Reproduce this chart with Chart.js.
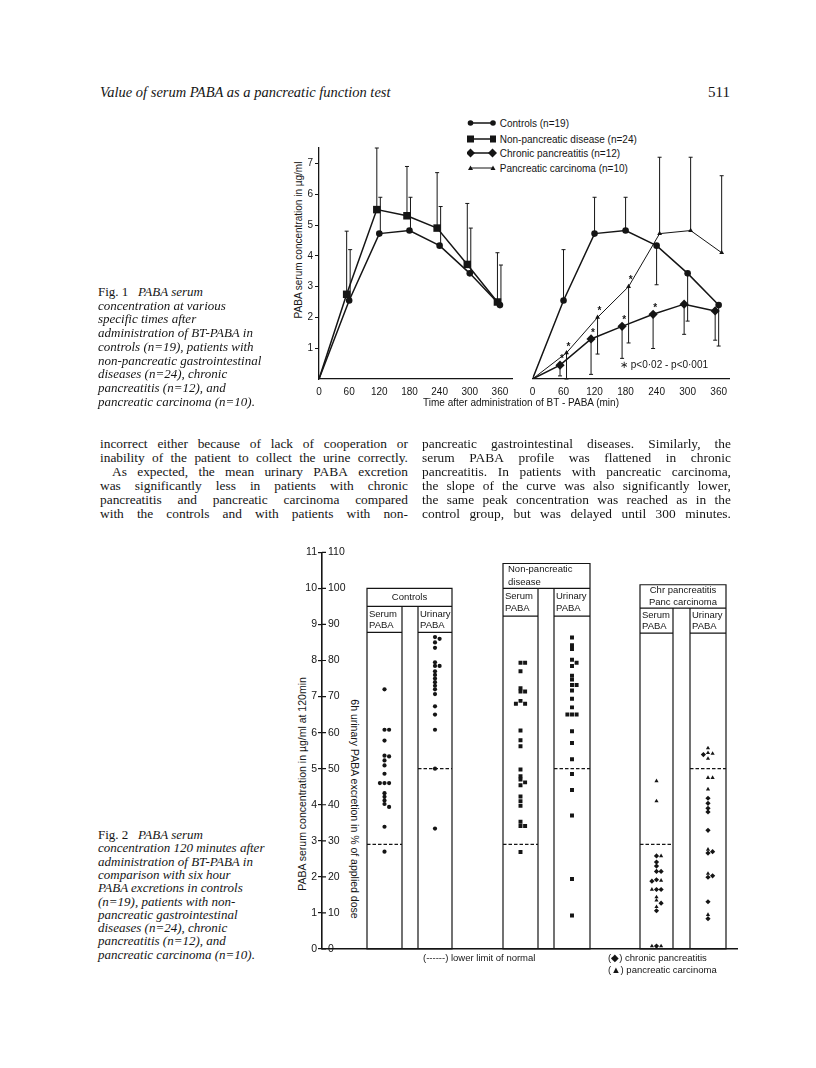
<!DOCTYPE html>
<html>
<head>
<meta charset="utf-8">
<title>Value of serum PABA as a pancreatic function test</title>
<script src="https://cdn.jsdelivr.net/npm/chart.js@4.4.1/dist/chart.umd.min.js"></script>
<style>
  body { margin: 0; background: #fff; }
  #page { position: relative; width: 816px; height: 1068px; overflow: hidden; color: #151515;
          font-family: 'Liberation Serif', 'Times New Roman', serif; }
  .t { position: absolute; white-space: nowrap; }
  .it { font-style: italic; }
  .sans { font-family: 'Liberation Sans', Arial, sans-serif; }
  canvas { position: absolute; }
  .jl { position: absolute; display: flex; justify-content: space-between; white-space: nowrap; font-size: 13.4px; }
  .cap { position: absolute; left: 98px; font-size: 13px; font-style: italic; white-space: nowrap; }
  .rot { position: absolute; white-space: nowrap; font-size: 10px; transform: translate(-50%, -50%) rotate(-90deg); }
</style>
</head>
<body>
<div id="page">
  <div class="t it" style="left:100px;top:84px;font-size:14.5px">Value of serum PABA as a pancreatic function test</div>
  <div class="t" style="left:708px;top:84px;font-size:15px">511</div>

  <!-- Fig 1 legend -->
  <div class="t sans" style="left:467px;top:117px;font-size:10px;line-height:13px"><svg width="30" height="12" style="vertical-align:-2px"><line x1="3" y1="6" x2="26" y2="6" stroke="#151515" stroke-width="1.5"/><circle cx="3.5" cy="6" r="2.8" fill="#151515"/><circle cx="26" cy="6" r="2.8" fill="#151515"/></svg> Controls (n=19)</div>
  <div class="t sans" style="left:467px;top:133px;font-size:10px;line-height:13px"><svg width="30" height="12" style="vertical-align:-2px"><line x1="3" y1="6" x2="26" y2="6" stroke="#151515" stroke-width="1.5"/><rect x="0" y="2.5" width="7" height="7" fill="#151515"/><rect x="23" y="2.5" width="6" height="7" fill="#151515"/></svg> Non-pancreatic disease (n=24)</div>
  <div class="t sans" style="left:467px;top:147px;font-size:10px;line-height:13px"><svg width="30" height="12" style="vertical-align:-2px"><line x1="3" y1="6" x2="26" y2="6" stroke="#151515" stroke-width="1.5"/><polygon points="3.5,1.5 8,6 3.5,10.5 -1,6" fill="#151515"/><polygon points="25.5,1.5 30,6 25.5,10.5 21,6" fill="#151515"/></svg> Chronic pancreatitis (n=12)</div>
  <div class="t sans" style="left:467px;top:162px;font-size:10px;line-height:13px"><svg width="30" height="12" style="vertical-align:-2px"><line x1="3" y1="6" x2="26" y2="6" stroke="#151515" stroke-width="1"/><polygon points="3.5,3.5 6,8 1,8" fill="#151515"/><polygon points="26,3.5 28.5,8 23.5,8" fill="#151515"/></svg> Pancreatic carcinoma (n=10)</div>

  <div class="rot sans" style="left:298px;top:240px">PABA serum concentration in µg/ml</div>
  <canvas id="fig1a" width="260" height="280" style="left:260px;top:130px"></canvas>
  <canvas id="fig1b" width="220" height="280" style="left:520px;top:130px"></canvas>
  <div class="t sans" style="left:620px;top:359px;font-size:10px">∗ p&lt;0·02 - p&lt;0·001</div>
  <div class="t sans" style="left:521px;top:397px;font-size:10px;transform:translateX(-50%)">Time after administration of BT - PABA (min)</div>

  <div id="cap1"></div>
  <div id="body"></div>
  <div id="cap2"></div>

  <!-- Fig 2 -->
  <div class="rot sans" style="left:302px;top:784px;font-size:10.5px">PABA serum concentration in µg/ml at 120min</div>
  <div class="rot sans" style="left:355px;top:809px;font-size:10.5px;transform:translate(-50%,-50%) rotate(90deg)">6h urinary PABA excretion in % of applied dose</div>
  <canvas id="fig2" width="460" height="440" style="left:280px;top:540px"></canvas>
  <div class="t sans" style="left:423px;top:952px;font-size:9.5px">(------) lower limit of normal</div>
  <div class="t sans" style="left:608px;top:952px;font-size:9.5px">(◆) chronic pancreatitis</div>
  <div class="t sans" style="left:608px;top:964px;font-size:9.5px">(▲) pancreatic carcinoma</div>
</div>

<script>
// ---------- Fig. 1: mean serum PABA (µg/ml) after BT-PABA ----------
const times = [0, 60, 120, 180, 240, 300, 360];
const timeTicks = [0, 60, 120, 180, 240, 300, 360];
const concTicks = [1, 2, 3, 4, 5, 6, 7];

const controlsMean = [0, 2.55, 4.72, 4.82, 4.33, 3.43, 2.4];
const controlsBarLeft = [null, 4.2, 5.9, 5.9, 5.6, 4.9, 3.7];     // end of SD bar, left panel
const controlsBarRight = [null, 4.2, 5.9, 5.9, 3.06, 1.88, 1.07]; // right panel draws later bars down
const nonPancMean = [0, 2.75, 5.5, 5.3, 4.9, 3.72, 2.5];
const nonPancBar = [null, 4.8, 7.5, 6.9, 6.7, 5.7, 4.1];
const chronicMean = [0, 0.45, 1.3, 1.71, 2.1, 2.43, 2.21];
const chronicBar = [null, 0.1, 0.15, 0.67, 0.99, 1.45, 1.26];
const carcinomaMean = [0, 0.85, 2.0, 3.0, 4.72, 4.82, 4.1];
const carcinomaBar = [null, 0, 0.81, 1.17, 7.2, 7.2, 6.6];
const chronicSig = [false, true, true, true, true, false, false];
const carcinomaSig = [false, true, true, true, false, false, false];

// ---------- Fig. 2: individual values ----------
const serumTicks = [0, 1, 2, 3, 4, 5, 6, 7, 8, 9, 10, 11];
const urineTicks = [0, 10, 20, 30, 40, 50, 60, 70, 80, 90, 100, 110];
const serumLimit = 2.9;   // µg/ml
const urineLimit = 50;    // %

const ctrlSerum = [7.2, 6.08, 6.08, 5.78, 5.36, 5.34, 5.23, 5.09, 4.86, 4.6, 4.6, 4.6, 4.32, 4.22, 4.12, 4.02, 3.94, 3.39, 2.7];
const ctrlUrine = [86.5, 86, 85, 83.5, 79.5, 78.5, 78.5, 77, 76, 75, 74, 73, 72, 70.7, 67.3, 65, 60.8, 50, 33.4];
const npSerum = [7.94, 7.94, 7.7, 7.23, 7.14, 7.14, 6.88, 6.8, 6.8, 6.06, 5.79, 5.62, 4.98, 4.79, 4.7, 4.62, 4.54, 4.23, 4.1, 3.97, 3.53, 3.41, 3.41, 2.69];
const npUrine = [86.4, 84.2, 83.2, 80.2, 79.4, 78.5, 75.8, 74.7, 73.2, 73.2, 71.7, 69.4, 67, 65, 65, 65, 60.4, 57.1, 52.6, 48.5, 44.1, 37, 19.4, 9.3];
const cpSerum = [2.58, 2.41, 2.3, 2.15, 2.15, 1.92, 1.88, 1.65, 1.65, 1.27, 1.06, 0.08];
const caSerum = [4.66, 4.1, 2.58, 1.9, 1.65, 1.44, 1.35, 1.17, 0.08, 0.08];
const cpUrine = [53.9, 41.8, 40.4, 39, 38, 32.9, 26.6, 27, 19.9, 20.3, 13.1, 8.4];
const caUrine = [55.7, 54.4, 54.2, 52.8, 47.5, 47.5, 44.3, 27.6, 20.9, 9.5];

const INK = '#151515';
const FONT = "'Liberation Sans', Arial, sans-serif";
Chart.defaults.font.family = FONT;
Chart.defaults.color = INK;

// ---------- page text ----------
function capLines(id, lines, top, step) {
  const box = document.getElementById(id);
  lines.forEach((l, i) => {
    const d = document.createElement('div');
    d.className = 'cap';
    d.style.top = (top + i * step) + 'px';
    d.innerHTML = l;
    box.appendChild(d);
  });
}
capLines('cap1', [
  '<span style="font-style:normal">Fig. 1</span>&nbsp;&nbsp;&nbsp;PABA serum',
  'concentration at various', 'specific times after', 'administration of BT-PABA in',
  'controls (n=19), patients with', 'non-pancreatic gastrointestinal', 'diseases (n=24), chronic',
  'pancreatitis (n=12), and', 'pancreatic carcinoma (n=10).'
], 284, 13.7);
capLines('cap2', [
  '<span style="font-style:normal">Fig. 2</span>&nbsp;&nbsp;&nbsp;PABA serum',
  'concentration 120 minutes after', 'administration of BT-PABA in', 'comparison with six hour',
  'PABA excretions in controls', '(n=19), patients with non-', 'pancreatic gastrointestinal',
  'diseases (n=24), chronic', 'pancreatitis (n=12), and', 'pancreatic carcinoma (n=10).'
], 827, 13.3);

function justified(lines, left, width, top, step) {
  const box = document.getElementById('body');
  lines.forEach((l, i) => {
    const d = document.createElement('div');
    d.className = 'jl';
    const indent = l.startsWith('  ') ? 12 : 0;
    d.style.left = (left + indent) + 'px';
    d.style.width = (width - indent) + 'px';
    d.style.top = (top + i * step) + 'px';
    l.trim().split(' ').forEach(w => {
      const s = document.createElement('span');
      s.textContent = w;
      d.appendChild(s);
    });
    box.appendChild(d);
  });
}
justified([
  'incorrect either because of lack of cooperation or',
  'inability of the patient to collect the urine correctly.',
  '  As expected, the mean urinary PABA excretion',
  'was significantly less in patients with chronic',
  'pancreatitis and pancreatic carcinoma compared',
  'with the controls and with patients with non-'
], 100, 308, 436, 14);
justified([
  'pancreatic gastrointestinal diseases. Similarly, the',
  'serum PABA profile was flattened in chronic',
  'pancreatitis. In patients with pancreatic carcinoma,',
  'the slope of the curve was also significantly lower,',
  'the same peak concentration was reached as in the',
  'control group, but was delayed until 300 minutes.'
], 422, 309, 436, 14);

// ---------- plugins ----------
// shift a series sideways a few pixels, as the printed figure does
const dodgePlugin = {
  id: 'dodge',
  afterDatasetUpdate(chart, args) {
    const dx = chart.data.datasets[args.index].dodge || 0;
    if (!dx) return;
    args.meta.data.forEach((pt, i) => { if (i > 0) pt.x += dx; });
  }
};

const errorBarPlugin = {
  id: 'errorBars',
  afterDatasetsDraw(chart) {
    const ctx = chart.ctx;
    chart.data.datasets.forEach((ds, i) => {
      const meta = chart.getDatasetMeta(i);
      const ys = chart.scales[meta.yAxisID];
      ctx.save();
      ctx.strokeStyle = INK;
      ctx.fillStyle = INK;
      ctx.lineWidth = 1;
      if (ds.barEnds) {
        meta.data.forEach((pt, j) => {
          const end = ds.barEnds[j];
          if (end == null) return;
          const x = pt.x + (ds.barDx || 0);
          const ye = ys.getPixelForValue(end);
          ctx.beginPath();
          ctx.moveTo(x, pt.y);
          ctx.lineTo(x, ye);
          ctx.moveTo(x - 2, ye);
          ctx.lineTo(x + 2, ye);
          ctx.stroke();
        });
      }
      if (ds.stars) {
        ctx.font = 'bold 10px ' + FONT;
        ctx.textAlign = 'center';
        ctx.textBaseline = 'middle';
        meta.data.forEach((pt, j) => {
          if (ds.stars[j]) ctx.fillText('*', pt.x + 2, pt.y - 6);
        });
      }
      ctx.restore();
    });
  }
};

const markerR = r => c => (c.dataIndex === 0 ? 0 : r);
const pts = ys => times.map((t, i) => ({x: t, y: ys[i]}));

function series(label, ys, style, r, extra) {
  return Object.assign({
    label: label, data: pts(ys), pointStyle: style, pointRadius: markerR(r),
    borderColor: INK, backgroundColor: INK, pointBackgroundColor: INK,
    pointBorderWidth: 0, borderWidth: 1.5, tension: 0
  }, extra);
}

function timeAxis(max) {
  return {
    type: 'linear', min: 0, max: max,
    afterBuildTicks: s => { s.ticks = timeTicks.map(v => ({value: v})); },
    afterFit: s => { s.height = 31; },
    grid: {display: false, drawTicks: false},
    border: {color: INK, width: 1.3},
    ticks: {color: INK, font: {size: 10}, padding: 7, autoSkip: false, maxRotation: 0}
  };
}

new Chart(document.getElementById('fig1a'), {
  type: 'line',
  data: {
    datasets: [
      series('Controls (n=19)', controlsMean, 'circle', 3.3, {barEnds: controlsBarLeft, barDx: 1}),
      series('Non-pancreatic disease (n=24)', nonPancMean, 'rect', 5.3, {barEnds: nonPancBar, dodge: -2.5})
    ]
  },
  options: {
    responsive: false, animation: false,
    layout: {autoPadding: false, padding: {top: 18, right: 8, left: 0, bottom: 0}},
    plugins: {legend: {display: false}, tooltip: {enabled: false}},
    scales: {
      x: timeAxis(384),
      y: {
        min: 0, max: 7.5,
        afterBuildTicks: s => { s.ticks = concTicks.map(v => ({value: v})); },
        afterFit: s => { s.width = 59; },
        grid: {drawOnChartArea: false, tickLength: 4, color: INK},
        border: {color: INK, width: 1.3},
        ticks: {color: INK, font: {size: 10}, padding: 2}
      }
    }
  },
  plugins: [dodgePlugin, errorBarPlugin]
});

new Chart(document.getElementById('fig1b'), {
  type: 'line',
  data: {
    datasets: [
      series('Controls (n=19)', controlsMean, 'circle', 3.3, {barEnds: controlsBarRight}),
      series('Chronic pancreatitis (n=12)', chronicMean, 'rectRot', 4.6, {barEnds: chronicBar, stars: chronicSig, dodge: -3.5}),
      series('Pancreatic carcinoma (n=10)', carcinomaMean, 'triangle', 2.8, {barEnds: carcinomaBar, stars: carcinomaSig, dodge: 3, borderWidth: 1})
    ]
  },
  options: {
    responsive: false, animation: false,
    layout: {autoPadding: false, padding: {top: 18, right: 11, left: 12.5, bottom: 0}},
    plugins: {legend: {display: false}, tooltip: {enabled: false}},
    scales: {
      x: timeAxis(380),
      y: {min: 0, max: 7.5, display: false}
    }
  },
  plugins: [dodgePlugin, errorBarPlugin]
});

// ---------- Fig. 2 ----------
// column frames, in x-axis units (pixels right of the axis) and y-axis values
const fig2Groups = [
  {x0: 45, x1: 130, split: [80, 96], top: 10, head: 9.5, sub: 8.78, title: ['Controls'], align: 'center'},
  {x0: 181, x1: 268, split: [216, 232], top: 10.69, head: 10.0, sub: 9.23, title: ['Non-pancreatic', 'disease'], align: 'left'},
  {x0: 318, x1: 404, split: [351, 368], top: 10.1, head: 9.45, sub: 8.76, title: ['Chr pancreatitis', 'Panc carcinoma'], align: 'center'}
];

// spread dots of equal value sideways (simple swarm)
function swarm(center, lists) {
  const all = [];
  lists.forEach((l, li) => l.vals.forEach((v, vi) => all.push({u: v * l.k, li: li, vi: vi})));
  all.sort((a, b) => b.u - a.u);
  const placed = [];
  const out = lists.map(l => new Array(l.vals.length));
  const slots = [0, 1, -1, 2, -2];
  all.forEach(d => {
    let s = slots.find(sl => !placed.some(p => p.s === sl && Math.abs(p.u - d.u) < 0.085));
    if (s === undefined) s = 0;
    placed.push({s: s, u: d.u});
    out[d.li][d.vi] = center + s * 4.6;
  });
  return out;
}

function dots(label, vals, xs, axis, style, r) {
  return {
    label: label, data: vals.map((v, i) => ({x: xs[i], y: v})), yAxisID: axis,
    pointStyle: style, pointRadius: r, backgroundColor: INK, borderColor: INK, borderWidth: 0
  };
}

const serumC = g => (g.x0 + g.split[0]) / 2;
const urineC = g => (g.split[1] + g.x1) / 2;
const [g1, g2, g3] = fig2Groups;
const [xCtrlS] = swarm(serumC(g1), [{vals: ctrlSerum, k: 1}]);
const [xCtrlU] = swarm(urineC(g1), [{vals: ctrlUrine, k: 0.1}]);
const [xNpS] = swarm(serumC(g2), [{vals: npSerum, k: 1}]);
const [xNpU] = swarm(urineC(g2), [{vals: npUrine, k: 0.1}]);
const [xCpS, xCaS] = swarm(serumC(g3), [{vals: cpSerum, k: 1}, {vals: caSerum, k: 1}]);
const [xCpU, xCaU] = swarm(urineC(g3), [{vals: cpUrine, k: 0.1}, {vals: caUrine, k: 0.1}]);

const framesPlugin = {
  id: 'frames',
  beforeDatasetsDraw(chart, args, opts) {
    const {ctx, scales: {x, y, y2}} = chart;
    const y0 = y.getPixelForValue(0);
    ctx.save();
    ctx.strokeStyle = INK;
    ctx.fillStyle = INK;
    ctx.lineWidth = 1.2;
    ctx.font = '9.5px ' + FONT;
    ctx.textBaseline = 'middle';
    opts.groups.forEach(g => {
      const L = x.getPixelForValue(g.x0), R = x.getPixelForValue(g.x1);
      const s0 = x.getPixelForValue(g.split[0]), s1 = x.getPixelForValue(g.split[1]);
      const T = y.getPixelForValue(g.top), H = y.getPixelForValue(g.head), S = y.getPixelForValue(g.sub);
      ctx.beginPath();
      ctx.rect(L, T, R - L, y0 - T);
      ctx.moveTo(L, H); ctx.lineTo(R, H);
      ctx.moveTo(s0, H); ctx.lineTo(s0, y0);
      ctx.moveTo(s1, H); ctx.lineTo(s1, y0);
      ctx.moveTo(L, S); ctx.lineTo(s0, S);
      ctx.moveTo(s1, S); ctx.lineTo(R, S);
      ctx.stroke();
      g.title.forEach((t, i) => {
        const ty = T + (H - T) * (i + 0.5) / g.title.length;
        if (g.align === 'center') {
          ctx.textAlign = 'center';
          ctx.fillText(t, (L + R) / 2, ty);
        } else {
          ctx.textAlign = 'left';
          ctx.fillText(t, L + 5, ty);
        }
      });
      ctx.textAlign = 'left';
      [['Serum', L], ['Urinary', s1]].forEach(([w, xl]) => {
        ctx.fillText(w, xl + 2, H + (S - H) * 0.3);
        ctx.fillText('PABA', xl + 2, H + (S - H) * 0.72);
      });
      ctx.setLineDash([3.5, 2]);
      ctx.beginPath();
      const ys = y.getPixelForValue(opts.serumLimit), yu = y2.getPixelForValue(opts.urineLimit);
      ctx.moveTo(L, ys); ctx.lineTo(s0, ys);
      ctx.moveTo(s1, yu); ctx.lineTo(R, yu);
      ctx.stroke();
      ctx.setLineDash([]);
    });
    // right half of the cross ticks on the double axis
    const ax = chart.chartArea.left;
    ctx.lineWidth = 1.2;
    ctx.beginPath();
    y.ticks.forEach(t => {
      const py = y.getPixelForValue(t.value);
      ctx.moveTo(ax, py);
      ctx.lineTo(ax + 4, py);
    });
    ctx.stroke();
    ctx.restore();
  }
};

new Chart(document.getElementById('fig2'), {
  type: 'scatter',
  data: {
    datasets: [
      dots('Controls serum', ctrlSerum, xCtrlS, 'y', 'circle', 2.1),
      dots('Controls urinary', ctrlUrine, xCtrlU, 'y2', 'circle', 2.1),
      dots('Non-pancreatic serum', npSerum, xNpS, 'y', 'rect', 2.8),
      dots('Non-pancreatic urinary', npUrine, xNpU, 'y2', 'rect', 2.8),
      dots('Chronic pancreatitis serum', cpSerum, xCpS, 'y', 'rectRot', 2.6),
      dots('Pancreatic carcinoma serum', caSerum, xCaS, 'y', 'triangle', 2.4),
      dots('Chronic pancreatitis urinary', cpUrine, xCpU, 'y2', 'rectRot', 2.6),
      dots('Pancreatic carcinoma urinary', caUrine, xCaU, 'y2', 'triangle', 2.4)
    ]
  },
  options: {
    responsive: false, animation: false,
    layout: {autoPadding: false, padding: {top: 11, right: 3, left: 0, bottom: 0}},
    plugins: {
      legend: {display: false}, tooltip: {enabled: false},
      frames: {groups: fig2Groups, serumLimit: serumLimit, urineLimit: urineLimit}
    },
    scales: {
      x: {
        type: 'linear', min: 0, max: 415,
        afterFit: s => { s.height = 31; },
        grid: {display: false, drawTicks: false},
        ticks: {display: false},
        border: {color: INK, width: 1.4}
      },
      y: {
        min: 0, max: 11, position: 'left', weight: 1,
        afterBuildTicks: s => { s.ticks = serumTicks.map(v => ({value: v})); },
        afterFit: s => { s.width = 42; },
        grid: {drawOnChartArea: false, tickLength: 4, color: INK, lineWidth: 1.2},
        border: {color: INK, width: 1.6},
        ticks: {color: INK, font: {size: 10.5}, padding: 1}
      },
      y2: {
        min: 0, max: 110, position: 'left', weight: 0,
        afterBuildTicks: s => { s.ticks = urineTicks.map(v => ({value: v})); },
        afterFit: s => { s.width = 0; },
        grid: {display: false, drawTicks: false},
        border: {display: false},
        ticks: {mirror: true, padding: 6, color: INK, font: {size: 10.5}}
      }
    }
  },
  plugins: [framesPlugin]
});
</script>
</body>
</html>
